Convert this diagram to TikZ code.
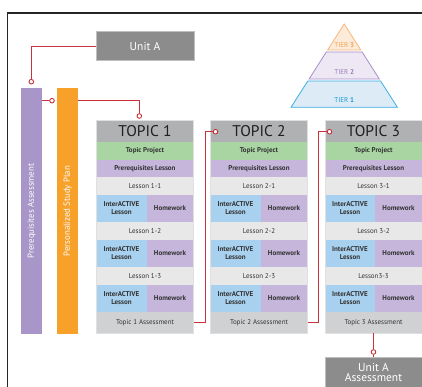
\documentclass[tikz,border=0pt]{standalone}
\usepackage{fontspec}
\setmainfont{PT Sans}
\definecolor{lnred}{HTML}{C8323C}
\definecolor{hdrgray}{HTML}{B0B1B3}
\definecolor{projgreen}{HTML}{A9D5A3}
\definecolor{prepurple}{HTML}{C6B6DC}
\definecolor{lessgray}{HTML}{E8E8E8}
\definecolor{iblue}{HTML}{A8D1EF}
\definecolor{hwpurple}{HTML}{C6B6DC}
\definecolor{asgray}{HTML}{D0D1D2}
\definecolor{unitgray}{HTML}{8C8C8C}
\definecolor{barpurple}{HTML}{A896C9}
\definecolor{barorange}{HTML}{F7A12B}
\definecolor{txtdark}{HTML}{333333}
\definecolor{t3line}{HTML}{F9B67A}\definecolor{t3fill}{HTML}{FDEBD9}\definecolor{t3txt}{HTML}{F5A04E}
\definecolor{t2line}{HTML}{A98FCB}\definecolor{t2fill}{HTML}{EEE8F5}\definecolor{t2txt}{HTML}{9A7DBE}
\definecolor{t1line}{HTML}{3AB0E0}\definecolor{t1fill}{HTML}{DDEBF7}\definecolor{t1txt}{HTML}{1E9BD7}
\tikzset{
  cell/.style={anchor=north west, inner sep=0pt, outer sep=0pt, text=txtdark, align=center, font=\fontsize{7}{7.6}\selectfont},
  hdr/.style={cell, fill=hdrgray, font=\fontsize{15.5}{16}\selectfont, text=black!88},
  proj/.style={cell, fill=projgreen, font=\bfseries\fontsize{7}{7.6}\selectfont},
  prel/.style={cell, fill=prepurple, font=\bfseries\fontsize{7}{7.6}\selectfont},
  less/.style={cell, fill=lessgray},
  ibox/.style={cell, fill=iblue, font=\bfseries\fontsize{7}{8}\selectfont},
  hwbox/.style={cell, fill=hwpurple, font=\bfseries\fontsize{7}{7.6}\selectfont},
  asbox/.style={cell, fill=asgray},
  conn/.style={draw=lnred, line width=0.9pt},
  dot/.style={circle, draw=lnred, fill=white, line width=0.9pt, inner sep=0pt, minimum size=4.6pt},
  graybox/.style={fill=unitgray, draw=black!25, line width=0.6pt, text=white, inner sep=0pt, outer sep=0pt, anchor=north west, align=center},
  bar/.style={inner sep=0pt, outer sep=0pt, anchor=north west, minimum width=21.3pt, minimum height=245.7pt},
  bartext/.style={rotate=90, text=white, font=\fontsize{8.8}{9.5}\selectfont},
  tiertext/.style={font=\fontsize{7}{8}\selectfont},
}
\newcommand\tcol[5]{% #1 id, #2 left x, #3 topic n, #4 third lesson label, #5 topic label text
  \node[hdr, minimum width=97pt, minimum height=22pt] (#1h) at (#2,120) {TOPIC #3};
  \node[proj, minimum width=97pt, minimum height=18pt] (#1p) at (#2,142) {Topic Project};
  \node[prel, minimum width=97pt, minimum height=17pt] (#1q) at (#2,160) {Prerequisites Lesson};
  \node[less, minimum width=97pt, minimum height=18pt] (#1l1) at (#2,177) {Lesson #3-1};
  \node[ibox, minimum width=50pt, minimum height=27pt] (#1i1) at (#2,195) {InterACTIVE\\Lesson};
  \node[hwbox, minimum width=47pt, minimum height=27pt] (#1w1) at ($(#2,195)+(50,0)$) {Homework};
  \node[less, minimum width=97pt, minimum height=18pt] (#1l2) at (#2,222) {Lesson #3-2};
  \node[ibox, minimum width=50pt, minimum height=27pt] (#1i2) at (#2,240) {InterACTIVE\\Lesson};
  \node[hwbox, minimum width=47pt, minimum height=27pt] (#1w2) at ($(#2,240)+(50,0)$) {Homework};
  \node[less, minimum width=97pt, minimum height=18pt] (#1l3) at (#2,267) {#4};
  \node[ibox, minimum width=50pt, minimum height=27pt] (#1i3) at (#2,285) {InterACTIVE\\Lesson};
  \node[hwbox, minimum width=47pt, minimum height=27pt] (#1w3) at ($(#2,285)+(50,0)$) {Homework};
  \node[asbox, minimum width=97pt, minimum height=21pt] (#1a) at (#2,312) {#5};
  \draw[black!12, line width=0.5pt] (#1h.north west) rectangle (#1a.south east);
}
\usetikzlibrary{calc}
\begin{document}
\begin{tikzpicture}[x=1pt, y=-1pt]
\useasboundingbox[fill=white] (0,0) rectangle (422,387);
% frame
\draw[black!85, line width=1.3pt] (7.5,387) -- (7.5,13) -- (422,13);
% Unit A
\node[graybox, minimum width=98pt, minimum height=29pt, font=\fontsize{11.5}{12}\selectfont] (ua) at (96,31.7) {Unit A};
% bars
\node[bar, fill=barpurple] (pa) at (21,88.3) {};
\node[bar, fill=barorange] (sp) at (57,88.3) {};
\node[bartext] (pat) at (pa.center) {Prerequisites Assessment};
\node[bartext] (spt) at (sp.center) {Personalized Study Plan};
% topic columns
\tcol{t1}{96.5}{1}{Lesson 1-3}{Topic 1 Assessment}
\tcol{t2}{210.5}{2}{Lesson 2-3}{Topic 2 Assessment}
\tcol{t3}{325}{3}{Lesson3-3}{Topic 3 Assessment}
% Unit A Assessment
\node[graybox, minimum width=97pt, minimum height=30pt, font=\fontsize{11.5}{12}\selectfont] (uaa) at (325,357.3) {Unit A\\[-2pt]Assessment};
% pyramid
\draw[t3line, fill=t3fill, line width=0.8pt] (344.2,24) -- (360.8,50) -- (327.6,50) -- cycle;
\draw[t2line, fill=t2fill, line width=0.8pt] (326.3,52) -- (362.1,52) -- (379.3,79) -- (309.1,79) -- cycle;
\draw[t1line, fill=t1fill, line width=0.8pt] (307.8,81) -- (380.6,81) -- (397.4,107.3) -- (291,107.3) -- cycle;
\node[tiertext, text=t3txt] (tier3) at (344.2,45.2) {TIER \textbf{3}};
\node[tiertext, text=t2txt] (tier2) at (344.2,72.5) {TIER \textbf{2}};
\node[tiertext, text=t1txt] (tier1) at (344.2,100.5) {TIER \textbf{1}};
% connector dots
\node[dot] (c1) at (31.3,81.7) {};
\node[dot] (c2) at (52,100.7) {};
\node[dot] (c3) at (139.3,116) {};
\node[dot] (c4) at (215.5,131.7) {};
\node[dot] (c5) at (329.5,131.7) {};
\node[dot] (c6) at (373.5,352) {};
\coordinate (k1) at (205.3,131.7);
\coordinate (k2) at (318.3,131.7);
% connectors
\draw[conn] (ua.west) -| (c1);
\draw[conn] (pa.east |- c2) -- (c2);
\draw[conn] (sp.east |- c2) -| (c3);
\draw[conn] (t1a.east) -| (k1) -- (c4);
\draw[conn] (t2a.east) -| (k2) -- (c5);
\draw[conn] (t3a.south) -- (c6);
\draw[conn] (c6) -- (uaa.north);
\end{tikzpicture}
\end{document}
